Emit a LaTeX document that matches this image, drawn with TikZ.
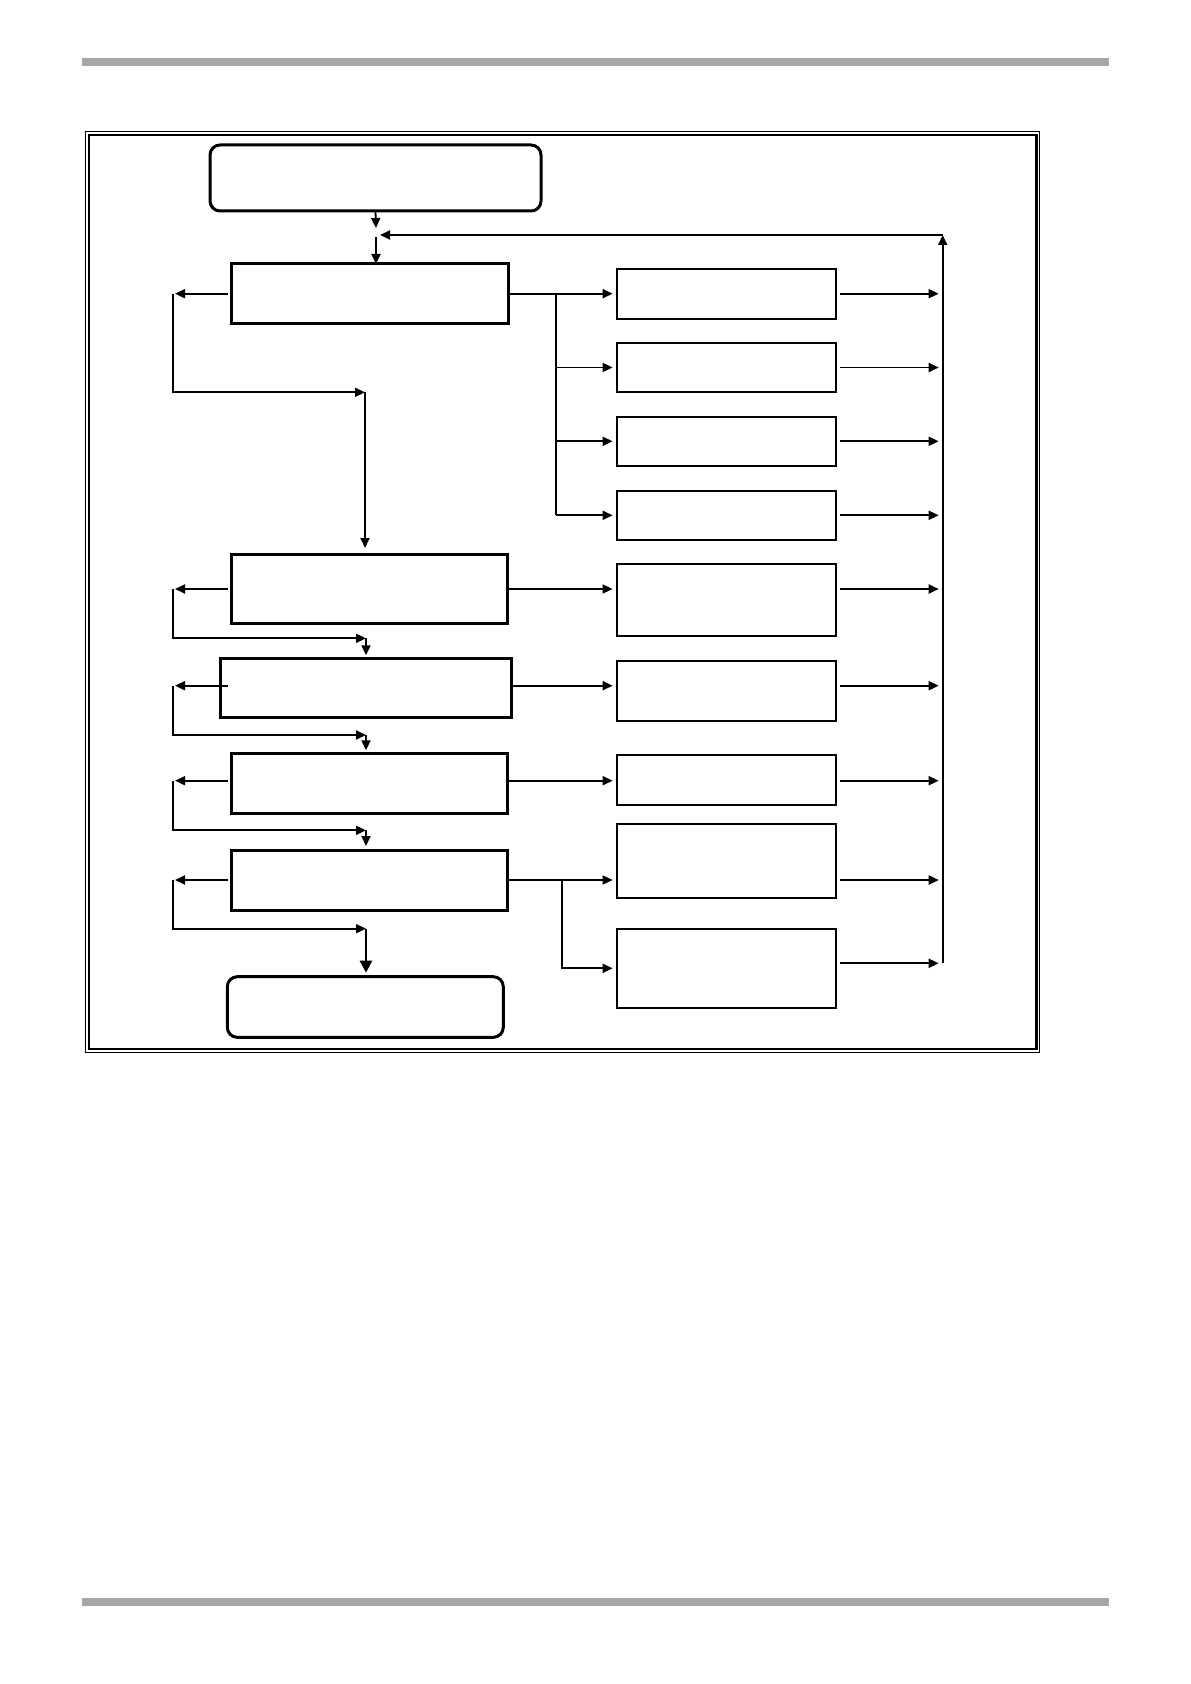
\documentclass[tikz,border=0pt]{standalone}
\usetikzlibrary{arrows.meta}
\begin{document}
\begin{tikzpicture}[x=0.5pt, y=-0.5pt]
    % Define styles
    \tikzstyle{stage} = [rectangle, draw, line width=1.5pt, inner sep=0pt, outer sep=0pt, minimum width=138pt, minimum height=30pt]
    \tikzstyle{terminal} = [stage, rounded corners=5pt]
    \tikzstyle{outbox} = [rectangle, draw, line width=1pt, inner sep=0pt, outer sep=0pt, minimum width=109.7pt]
    \tikzstyle{arr} = [-{Triangle[length=5pt, width=4.5pt]}, line width=0.9pt]
    \tikzstyle{rail} = [line width=0.7pt]

    \useasboundingbox (0,0) rectangle (1190,1684);

    % Page rules
    \fill[black!35] (82,58) rectangle (1109,66);
    \fill[black!35] (82,1598) rectangle (1109,1606);

    % Frame
    \draw[line width=0.6pt] (85.5,131.5) rectangle (1039.8,1052.2);
    \draw[line width=1.25pt] (89,134.8) rectangle (1036.3,1049);

    % Left column
    \node[terminal, minimum width=165.5pt, minimum height=33pt] (start) at (375.5,178) {};
    \node[stage, minimum width=138.3pt, minimum height=29.7pt] (s1) at (370,293.7) {};
    \node[stage, minimum height=34.7pt] (s2) at (369.7,588.7) {};
    \node[stage, minimum width=145.5pt, minimum height=29.5pt] (s3) at (365.5,687.8) {};
    \node[stage] (s4) at (369.7,783.3) {};
    \node[stage] (s5) at (369.7,880) {};
    \node[terminal, minimum height=30.3pt] (stop) at (365.3,1007) {};

    % Right column
    \node[outbox, minimum height=24.85pt] (o1) at (726.3,294.2) {};
    \node[outbox, minimum height=24.8pt] (o2) at (726.3,367.5) {};
    \node[outbox, minimum height=24.65pt] (o3) at (726.3,441.3) {};
    \node[outbox, minimum height=24.65pt] (o4) at (726.3,515.3) {};
    \node[outbox, minimum height=35.85pt] (o5) at (726.3,600.2) {};
    \node[outbox, minimum height=29.85pt] (o6) at (726.3,691.2) {};
    \node[outbox, minimum height=25pt] (o7) at (726.3,780) {};
    \node[outbox, minimum height=37.15pt] (o8) at (726.3,861.2) {};
    \node[outbox, minimum height=39.65pt] (o9) at (726.3,968.3) {};

    % Feedback bus
    \coordinate (merge) at (376,235);
    \coordinate (bustop) at (942.7,235);
    \coordinate (busbot) at (942.7,963.3);
    \draw[arr] (start.south) -- ([yshift=3.5pt]merge);
    \draw[arr] ([yshift=-1pt]merge) -- (merge |- s1.north);
    \draw[arr] (busbot) -- (bustop);
    \draw[arr] (bustop) -- ([xshift=2pt]merge);

    % Left return loops
    \coordinate (ret1) at (173,293.7);
    \coordinate (ret2) at (173,589);
    \coordinate (ret3) at (173,685.7);
    \coordinate (ret4) at (173,780.7);
    \coordinate (ret5) at (173,880);
    \coordinate (in2) at (365,392.3);
    \coordinate (in3) at (366,638.3);
    \coordinate (in4) at (366,735);
    \coordinate (in5) at (366,830.3);
    \coordinate (in6) at (366,928.7);
    \draw[arr] ([xshift=-2pt]s1.west) -- ([xshift=1pt]ret1);
    \draw[rail, arr] (ret1) |- (in2);
    \draw[arr, shorten >=3pt] (in2) -- (in2 |- s2.north);
    \draw[arr] ([xshift=-2pt]s2.west |- ret2) -- ([xshift=1pt]ret2);
    \draw[rail, arr] (ret2) |- (in3);
    \draw[arr, shorten >=1.5pt] (in3) -- (in3 |- s3.north);
    \draw[arr] ([xshift=4pt]s3.west |- ret3) -- ([xshift=1pt]ret3);
    \draw[rail, arr] (ret3) |- (in4);
    \draw[arr, shorten >=1.5pt] (in4) -- (in4 |- s4.north);
    \draw[arr] ([xshift=-2pt]s4.west |- ret4) -- ([xshift=1pt]ret4);
    \draw[rail, arr] (ret4) |- (in5);
    \draw[arr, shorten >=2pt] (in5) -- (in5 |- s5.north);
    \draw[arr] ([xshift=-2pt]s5.west) -- ([xshift=1pt]ret5);
    \draw[rail, arr] (ret5) |- (in6);
    \draw[-{Triangle[length=6pt, width=6pt]}, line width=1.2pt, shorten >=2pt] (in6) -- (in6 |- stop.north);

    % Stage outputs
    \coordinate (fork1) at (556,293.7);
    \coordinate (fork2) at (562,880);
    \draw[arr, shorten >=2pt] (s1.east) -- (s1.east -| o1.west);
    \draw[line width=0.9pt] (fork1) -- (fork1 |- o4);
    \draw[arr, shorten >=2pt] (fork1 |- o2) -- (o2.west);
    \draw[arr, shorten >=2pt] (fork1 |- o3) -- (o3.west);
    \draw[arr, shorten >=2pt] (fork1 |- o4) -- (o4.west);
    \draw[arr, shorten >=2pt] (s2.east |- ret2) -- (o5.west |- ret2);
    \draw[arr, shorten >=2pt] (s3.east |- ret3) -- (o6.west |- ret3);
    \draw[arr, shorten >=2pt] (s4.east |- ret4) -- (o7.west |- ret4);
    \draw[arr, shorten >=2pt] (s5.east) -- (s5.east -| o8.west);
    \draw[arr, shorten >=2pt] (fork2) |- (o9.west);

    % Into the bus
    \draw[arr, shorten <=2pt, shorten >=2pt] (o1.east |- s1.east) -- (bustop |- s1.east);
    \draw[arr, shorten <=2pt, shorten >=2pt] (o2.east) -- (bustop |- o2.east);
    \draw[arr, shorten <=2pt, shorten >=2pt] (o3.east) -- (bustop |- o3.east);
    \draw[arr, shorten <=2pt, shorten >=2pt] (o4.east) -- (bustop |- o4.east);
    \draw[arr, shorten <=2pt, shorten >=2pt] (o5.east |- ret2) -- (bustop |- ret2);
    \draw[arr, shorten <=2pt, shorten >=2pt] (o6.east |- ret3) -- (bustop |- ret3);
    \draw[arr, shorten <=2pt, shorten >=2pt] (o7.east |- ret4) -- (bustop |- ret4);
    \draw[arr, shorten <=2pt, shorten >=2pt] (o8.east |- s5.east) -- (bustop |- s5.east);
    \draw[arr, shorten <=2pt, shorten >=2pt] (o9.east |- busbot) -- (busbot);
\end{tikzpicture}
\end{document}
